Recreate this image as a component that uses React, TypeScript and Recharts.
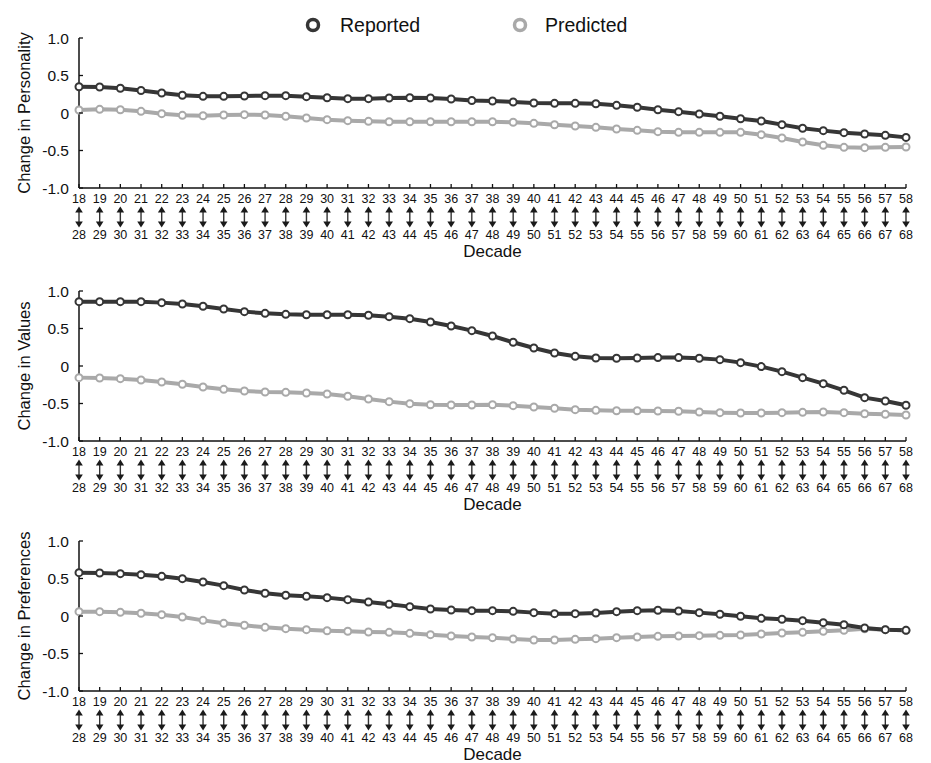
import React from 'react';
import { LineChart, Line, XAxis, YAxis, Label } from 'recharts';

// decade windows: start age / end age
const ageFrom = [18, 19, 20, 21, 22, 23, 24, 25, 26, 27, 28, 29, 30, 31, 32, 33, 34, 35, 36, 37, 38, 39, 40, 41, 42, 43, 44, 45, 46, 47, 48, 49, 50, 51, 52, 53, 54, 55, 56, 57, 58];
const ageTo = [28, 29, 30, 31, 32, 33, 34, 35, 36, 37, 38, 39, 40, 41, 42, 43, 44, 45, 46, 47, 48, 49, 50, 51, 52, 53, 54, 55, 56, 57, 58, 59, 60, 61, 62, 63, 64, 65, 66, 67, 68];

const yTicks = [-1, -0.5, 0, 0.5, 1];
const yTickLabels = ['-1.0', '-0.5', '0', '0.5', '1.0'];

const personalityReported = [0.35, 0.347, 0.33, 0.3, 0.267, 0.236, 0.222, 0.222, 0.227, 0.231, 0.231, 0.218, 0.204, 0.191, 0.191, 0.2, 0.204, 0.2, 0.187, 0.166, 0.16, 0.147, 0.133, 0.129, 0.129, 0.124, 0.102, 0.076, 0.044, 0.018, -0.013, -0.044, -0.076, -0.107, -0.155, -0.204, -0.235, -0.262, -0.28, -0.298, -0.325];
const personalityPredicted = [0.04, 0.049, 0.044, 0.022, -0.009, -0.031, -0.036, -0.027, -0.022, -0.027, -0.044, -0.067, -0.089, -0.102, -0.111, -0.116, -0.116, -0.116, -0.116, -0.116, -0.116, -0.124, -0.138, -0.156, -0.173, -0.191, -0.213, -0.231, -0.249, -0.258, -0.258, -0.258, -0.258, -0.289, -0.333, -0.387, -0.431, -0.458, -0.462, -0.458, -0.453];

const valuesReported = [0.858, 0.858, 0.858, 0.858, 0.845, 0.827, 0.796, 0.76, 0.725, 0.702, 0.689, 0.684, 0.684, 0.684, 0.676, 0.658, 0.631, 0.587, 0.534, 0.471, 0.4, 0.316, 0.24, 0.174, 0.129, 0.107, 0.103, 0.107, 0.112, 0.112, 0.103, 0.085, 0.045, -0.008, -0.075, -0.155, -0.235, -0.324, -0.422, -0.466, -0.524];
const valuesPredicted = [-0.155, -0.16, -0.169, -0.187, -0.213, -0.244, -0.28, -0.311, -0.333, -0.347, -0.351, -0.36, -0.373, -0.404, -0.44, -0.475, -0.502, -0.516, -0.52, -0.52, -0.516, -0.529, -0.547, -0.564, -0.582, -0.591, -0.596, -0.596, -0.6, -0.604, -0.613, -0.622, -0.627, -0.627, -0.622, -0.618, -0.613, -0.622, -0.636, -0.644, -0.653];

const preferencesReported = [0.578, 0.574, 0.565, 0.551, 0.529, 0.498, 0.454, 0.405, 0.347, 0.303, 0.276, 0.263, 0.245, 0.218, 0.187, 0.156, 0.125, 0.094, 0.08, 0.071, 0.071, 0.062, 0.045, 0.031, 0.031, 0.04, 0.058, 0.071, 0.076, 0.067, 0.045, 0.023, -0.004, -0.031, -0.044, -0.062, -0.089, -0.116, -0.16, -0.182, -0.191];
const preferencesPredicted = [0.058, 0.058, 0.049, 0.036, 0.018, -0.013, -0.058, -0.098, -0.124, -0.151, -0.169, -0.182, -0.196, -0.204, -0.213, -0.218, -0.231, -0.249, -0.267, -0.28, -0.289, -0.307, -0.32, -0.32, -0.311, -0.302, -0.289, -0.28, -0.271, -0.267, -0.262, -0.258, -0.253, -0.24, -0.227, -0.218, -0.204, -0.191, -0.17, -0.182, -0.191];

const DARK = '#363636';
const LIGHT = '#a9a9a9';
const FONT = '"Liberation Sans", Arial, Helvetica, sans-serif';

const buildRows = (reported: number[], predicted: number[]) =>
    ageFrom.map((from, i) => ({ from, to: ageTo[i], reported: reported[i], predicted: predicted[i] }));

const XTick = (props: any) => {
    const { x, y, payload, index } = props;
    return (
        <g>
            <line x1={x} x2={x} y1={y} y2={y - 4} stroke="#111" strokeWidth={1.3} />
            <text x={x} y={y + 15} textAnchor="middle" fontSize={12.5} fontFamily={FONT} fill="#111">
                {payload.value}
            </text>
            <line x1={x} x2={x} y1={y + 22} y2={y + 36} stroke="#333" strokeWidth={1.4} />
            <path d={`M${x - 3.8},${y + 24.5} L${x},${y + 18.5} L${x + 3.8},${y + 24.5} Z`} fill="#1a1a1a" />
            <path d={`M${x - 3.8},${y + 33.5} L${x},${y + 39.5} L${x + 3.8},${y + 33.5} Z`} fill="#1a1a1a" />
            <text x={x} y={y + 50.5} textAnchor="middle" fontSize={12.5} fontFamily={FONT} fill="#111">
                {ageTo[index]}
            </text>
        </g>
    );
};

const YTick = (props: any) => {
    const { x, y, payload } = props;
    const label = yTickLabels[yTicks.indexOf(payload.value)];
    return (
        <g>
            <line x1={x} x2={x + 4} y1={y} y2={y} stroke="#111" strokeWidth={1.3} />
            <text x={x - 10} y={y + 5.5} textAnchor="end" fontSize={15.5} fontFamily={FONT} fill="#111">
                {label}
            </text>
        </g>
    );
};

interface PanelProps {
    top: number;
    yLabel: string;
    reported: number[];
    predicted: number[];
}

const Panel: React.FC<PanelProps> = ({ top, yLabel, reported, predicted }) => {
    const rows = buildRows(reported, predicted);
    return (
        <div style={{ position: 'absolute', left: 0, top }}>
            <LineChart width={931} height={232} data={rows} margin={{ top: 10, right: 25, left: 0, bottom: 0 }}>
                <XAxis
                    dataKey="from"
                    interval={0}
                    height={72}
                    tickSize={0}
                    tickMargin={0}
                    tickLine={false}
                    axisLine={{ stroke: '#111', strokeWidth: 1.5 }}
                    tick={<XTick />}
                >
                    <Label
                        content={({ viewBox }: any) => (
                            <text
                                x={viewBox.x + viewBox.width / 2}
                                y={viewBox.y + 69}
                                textAnchor="middle"
                                fontSize={17}
                                fontFamily={FONT}
                                fill="#111"
                            >
                                Decade
                            </text>
                        )}
                    />
                </XAxis>
                <YAxis
                    width={79}
                    domain={[-1, 1]}
                    ticks={yTicks}
                    tickSize={0}
                    tickMargin={0}
                    tickLine={false}
                    axisLine={{ stroke: '#111', strokeWidth: 1.5 }}
                    tick={<YTick />}
                >
                    <Label
                        content={({ viewBox }: any) => {
                            const cx = viewBox.x + 24;
                            const cy = viewBox.y + viewBox.height / 2;
                            return (
                                <text
                                    x={cx}
                                    y={cy}
                                    transform={`rotate(-90 ${cx} ${cy})`}
                                    textAnchor="middle"
                                    dominantBaseline="central"
                                    fontSize={16.5}
                                    fontFamily={FONT}
                                    fill="#111"
                                >
                                    {yLabel}
                                </text>
                            );
                        }}
                    />
                </YAxis>
                <Line
                    type="linear"
                    dataKey="predicted"
                    stroke={LIGHT}
                    strokeWidth={4}
                    dot={{ r: 3.5, fill: '#fff', stroke: LIGHT, strokeWidth: 2 }}
                    isAnimationActive={false}
                />
                <Line
                    type="linear"
                    dataKey="reported"
                    stroke={DARK}
                    strokeWidth={4}
                    dot={{ r: 3.5, fill: '#fff', stroke: DARK, strokeWidth: 2 }}
                    isAnimationActive={false}
                />
            </LineChart>
        </div>
    );
};

const Legend = () => (
    <svg width={931} height={45} style={{ position: 'absolute', left: 0, top: 0 }}>
        <circle cx={313} cy={25} r={5.5} fill="#fff" stroke={DARK} strokeWidth={3.5} />
        <text x={340} y={31.5} fontSize={19.5} fontFamily={FONT} fill="#111">Reported</text>
        <circle cx={520} cy={25} r={5.5} fill="#fff" stroke={LIGHT} strokeWidth={3.5} />
        <text x={545} y={31.5} fontSize={19.5} fontFamily={FONT} fill="#111">Predicted</text>
    </svg>
);

const App: React.FC = () => {
    return (
        <div style={{ position: 'absolute', left: 0, top: 0, width: 931, height: 763, background: '#fff' }}>
            <Legend />
            <Panel top={28} yLabel="Change in Personality" reported={personalityReported} predicted={personalityPredicted} />
            <Panel top={281} yLabel="Change in Values" reported={valuesReported} predicted={valuesPredicted} />
            <Panel top={531} yLabel="Change in Preferences" reported={preferencesReported} predicted={preferencesPredicted} />
        </div>
    );
};

export default App;
